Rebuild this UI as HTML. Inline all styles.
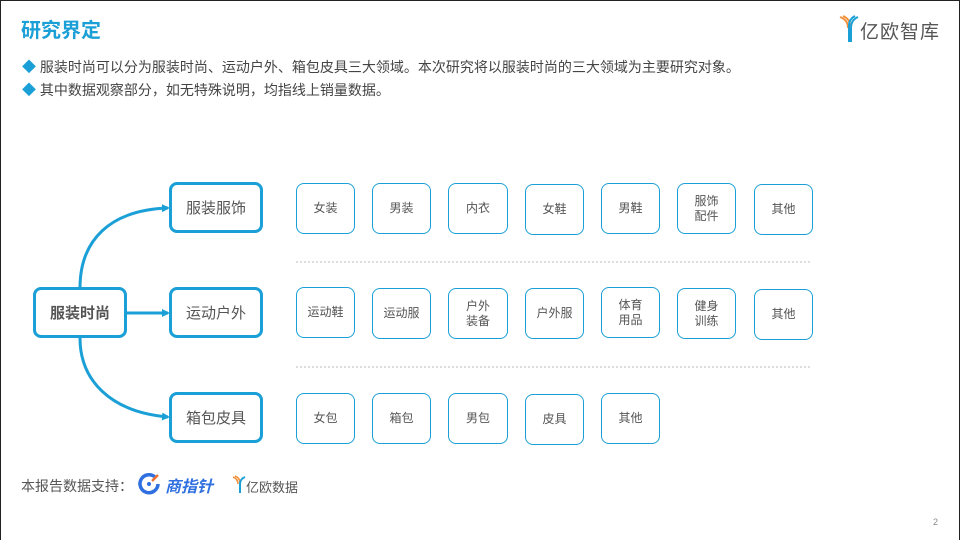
<!DOCTYPE html>
<html><head><meta charset="utf-8">
<style>
*{margin:0;padding:0;box-sizing:border-box}
body{width:960px;height:540px;overflow:hidden;background:#fff;position:relative;font-family:"Liberation Sans","Noto Sans CJK SC",sans-serif;color:#555}
.frame{position:absolute;left:0;top:0;width:960px;height:540px;border-left:1px solid #222;border-top:1px solid #222;border-right:1px solid #222}
.t{position:absolute;white-space:nowrap}
.box{position:absolute;display:flex;align-items:center;justify-content:center;text-align:center;background:#fff}
.big{border:3px solid #1a9fd6;border-radius:8px;font-size:15px;color:#555;width:94px;height:51px}
.sm{border:1.3px solid #1a9fd6;border-radius:8px;font-size:12px;color:#555;width:59px;height:51px;line-height:15px}
</style></head><body>
<div class="frame"></div>
<div class="t" style="left:21px;top:14px;font-size:20px;font-weight:bold;color:#1a9fd6">研究界定</div>
<svg style="position:absolute;left:838px;top:14px" width="22" height="28" viewBox="0 0 22 28">
<path d="M2 3 Q10 6 10 14 M5 2 Q12 5 12 12" stroke="#f0913a" stroke-width="2" fill="none"/>
<path d="M20 3 Q13 6 13 14 L13 28 M17 2 Q11 5 11 12 L11 28" stroke="#1a9fd6" stroke-width="2" fill="none"/>
</svg>
<div class="t" style="left:860px;top:17px;font-size:19px;color:#555;letter-spacing:1px">亿欧智库</div>
<div class="t" style="left:22px;top:57px;font-size:14px;color:#444"><span style="color:#1a9fd6">◆</span> 服装时尚可以分为服装时尚、运动户外、箱包皮具三大领域。本次研究将以服装时尚的三大领域为主要研究对象。</div>
<div class="t" style="left:22px;top:80px;font-size:14px;color:#444"><span style="color:#1a9fd6">◆</span> 其中数据观察部分，如无特殊说明，均指线上销量数据。</div>

<svg style="position:absolute;left:0;top:0" width="960" height="540">
<defs><marker id="a" markerWidth="8" markerHeight="8" refX="6" refY="4" orient="auto" markerUnits="userSpaceOnUse"><path d="M0 0 L8 4 L0 8 z" fill="#1a9fd6"/></marker></defs>
<path d="M80 288 C80 240 110 210 168 208" stroke="#1a9fd6" stroke-width="3" fill="none" marker-end="url(#a)"/>
<path d="M80 338 C80 380 110 412 168 417" stroke="#1a9fd6" stroke-width="3" fill="none" marker-end="url(#a)"/>
<path d="M126 313 L168 313" stroke="#1a9fd6" stroke-width="3" fill="none" marker-end="url(#a)"/>
<line x1="296" y1="262" x2="812" y2="262" stroke="#bbb" stroke-width="1" stroke-dasharray="2,2"/>
<line x1="296" y1="367" x2="812" y2="367" stroke="#bbb" stroke-width="1" stroke-dasharray="2,2"/>
</svg>

<div class="box big" style="left:33px;top:287px;font-weight:bold">服装时尚</div>
<div class="box big" style="left:169px;top:182px">服装服饰</div>
<div class="box big" style="left:169px;top:287px">运动户外</div>
<div class="box big" style="left:169px;top:392px">箱包皮具</div>

<div class="box sm" style="left:296px;top:183px">女装</div>
<div class="box sm" style="left:372px;top:183px">男装</div>
<div class="box sm" style="left:448px;top:183px;width:60px">内衣</div>
<div class="box sm" style="left:525px;top:184px">女鞋</div>
<div class="box sm" style="left:601px;top:183px">男鞋</div>
<div class="box sm" style="left:677px;top:183px">服饰<br>配件</div>
<div class="box sm" style="left:754px;top:184px">其他</div>

<div class="box sm" style="left:296px;top:287px">运动鞋</div>
<div class="box sm" style="left:372px;top:288px">运动服</div>
<div class="box sm" style="left:448px;top:288px;width:60px">户外<br>装备</div>
<div class="box sm" style="left:525px;top:288px">户外服</div>
<div class="box sm" style="left:601px;top:287px">体育<br>用品</div>
<div class="box sm" style="left:677px;top:288px">健身<br>训练</div>
<div class="box sm" style="left:754px;top:289px">其他</div>

<div class="box sm" style="left:296px;top:393px">女包</div>
<div class="box sm" style="left:372px;top:393px">箱包</div>
<div class="box sm" style="left:448px;top:393px;width:60px">男包</div>
<div class="box sm" style="left:525px;top:394px">皮具</div>
<div class="box sm" style="left:601px;top:393px">其他</div>

<div class="t" style="left:21px;top:476px;font-size:14px;color:#555">本报告数据支持：</div>
<svg style="position:absolute;left:137px;top:472px" width="24" height="24" viewBox="0 0 24 24">
<path d="M18 5 A9 9 0 1 0 21 12" stroke="#2f6fe0" stroke-width="3.5" fill="none"/>
<circle cx="12" cy="12" r="2" fill="#2f6fe0"/>
<path d="M15 9 L21 3" stroke="#f07030" stroke-width="2.5"/>
</svg>
<div class="t" style="left:165px;top:473px;font-size:16px;font-weight:bold;font-style:italic;color:#2f6fe0">商指针</div>
<svg style="position:absolute;left:232px;top:475px" width="14" height="18" viewBox="0 0 14 18">
<path d="M1 2 Q6 4 6 9 M3 1 Q8 3 8 8" stroke="#f0913a" stroke-width="1.5" fill="none"/>
<path d="M13 2 Q8 4 8 9 L8 18" stroke="#1a9fd6" stroke-width="2" fill="none"/>
</svg>
<div class="t" style="left:246px;top:477px;font-size:13px;color:#555">亿欧数据</div>
<div class="t" style="left:933px;top:517px;font-size:9px;color:#888">2</div>
</body></html>
